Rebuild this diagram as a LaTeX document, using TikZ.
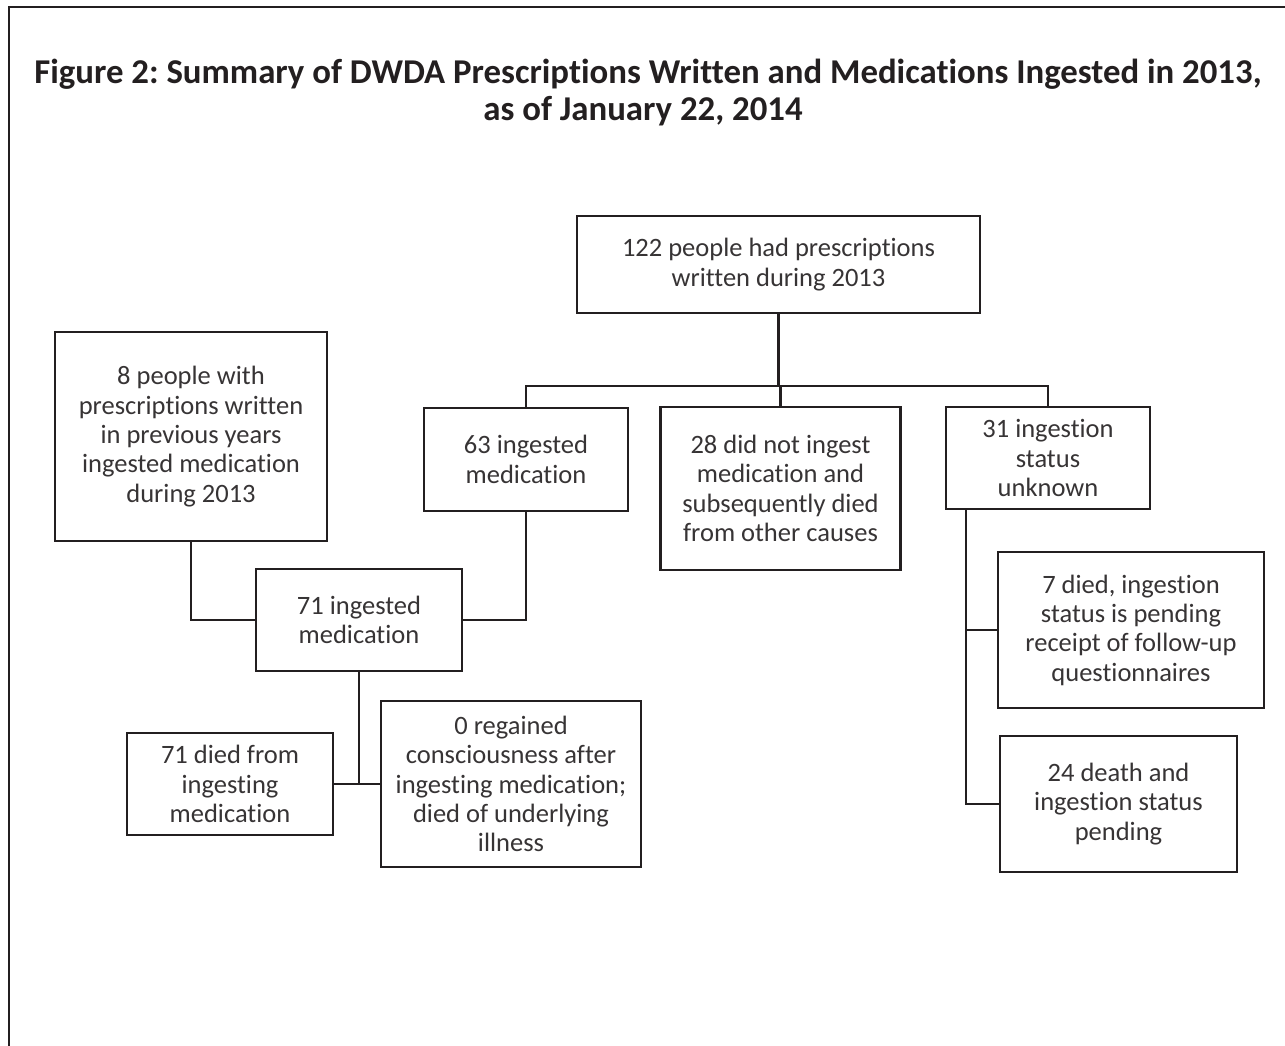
\documentclass[tikz,border=0pt]{standalone}
\usepackage{fontspec}
\setmainfont{Carlito}[Ligatures={NoCommon,NoContextual}]
\frenchspacing
\definecolor{ink}{RGB}{35,31,32}
\definecolor{txt}{RGB}{55,52,53}
\begin{document}
\begin{tikzpicture}[x=1pt,y=-1pt,
  box/.style={draw=ink, line width=2.4pt, fill=white, inner sep=0pt, align=center,
    text=txt, font=\fontsize{26.5}{29.3}\selectfont},
  titletext/.style={text=ink, inner sep=0pt, anchor=base, font=\fontsize{34.8}{37}\selectfont\bfseries},
  conn/.style={draw=ink, line width=2.4pt}]
\useasboundingbox (0,0) rectangle (1285,1045);
% frame
\draw[ink, line width=2.6pt] (1290,7) -- (9,7) -- (9,1050);
% title
\node[titletext] (title1) at (648,83)
  {Figure 2: Summary of DWDA Prescriptions Written and Medications Ingested in 2013,};
\node[titletext] (title2) at (643,120) {as of January 22, 2014};
% boxes
\node[box, minimum width=403pt, minimum height=97pt] (top) at (778.5,264.5)
  {122 people had prescriptions\\written during 2013};
\node[box, minimum width=272pt, minimum height=209pt] (b8) at (191,436.5)
  {8 people with\\prescriptions written\\in previous years\\ingested medication\\during 2013};
\node[box, minimum width=204pt, minimum height=103pt] (b63) at (526,459.5)
  {63 ingested\\medication};
\node[box, minimum width=240pt, minimum height=163pt] (b28) at (780.5,488.5)
  {28 did not ingest\\medication and\\subsequently died\\from other causes};
\node[box, minimum width=204pt, minimum height=102pt] (b31) at (1048,458)
  {31 ingestion\\status\\unknown};
\node[box, minimum width=206pt, minimum height=102pt] (b71) at (359,620)
  {71 ingested\\medication};
\node[box, minimum width=206pt, minimum height=102pt] (b71d) at (230,784)
  {71 died from\\ingesting\\medication};
\node[box, minimum width=260pt, minimum height=166pt] (b0) at (511,784)
  {0 regained\\consciousness after\\ingesting medication;\\died of underlying\\illness};
\node[box, minimum width=266pt, minimum height=156pt] (b7) at (1131,630)
  {7 died, ingestion\\status is pending\\receipt of follow-up\\questionnaires};
\node[box, minimum width=237pt, minimum height=136pt] (b24) at (1118.5,804)
  {24 death and\\ingestion status\\pending};
% connectors
\coordinate (j) at (778.5,386);
\draw[conn] (top.south) -- (j);
\draw[conn] (b63.north) |- (j) -| (b31.north);
\draw[conn] (b28.north) -- (b28.north |- j);
\draw[conn] (b8.south) |- (b71.west);
\draw[conn] (b71.east) -| (b63.south);
\draw[conn] (b71.south) -- (b71.south |- b0.west);
\draw[conn] (b71d.east) -- (b0.west);
\coordinate (r) at ([xshift=21pt]b31.south west);
\draw[conn] (r) |- (b24.west);
\draw[conn] (b7.west) -- (b7.west -| r);
\end{tikzpicture}
\end{document}
